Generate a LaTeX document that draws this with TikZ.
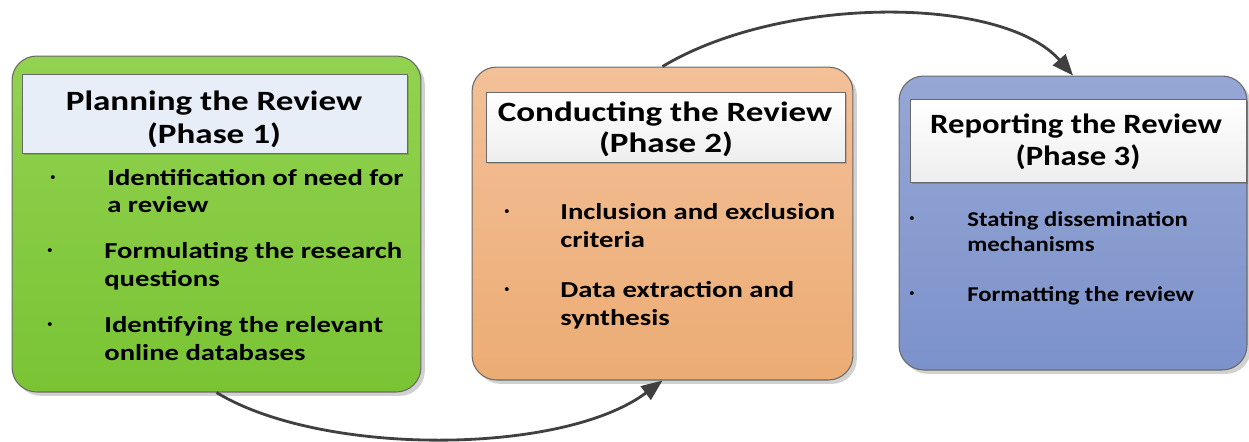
\documentclass[tikz,border=0pt]{standalone}
\usepackage{fontspec}
\setmainfont{Carlito}
\newfontfamily\widefont[FakeStretch=1.255]{Carlito}
\newfontfamily\midfont[FakeStretch=1.17]{Carlito}
\usetikzlibrary{arrows.meta,shadows}

\definecolor{edgegray}{RGB}{105,105,105}
\definecolor{arrowgray}{RGB}{64,64,64}
\definecolor{greentop}{RGB}{146,210,80}
\definecolor{greenbot}{RGB}{122,196,52}
\definecolor{orangetop}{RGB}{243,192,152}
\definecolor{orangebot}{RGB}{236,172,116}
\definecolor{bluetop}{RGB}{150,167,213}
\definecolor{bluebot}{RGB}{124,146,203}
\definecolor{paleblue}{RGB}{232,238,248}
\definecolor{palegray}{RGB}{238,238,238}

\tikzset{
  phasebox/.style={draw=edgegray, line width=0.6pt, rounded corners=14pt,
    drop shadow={shadow xshift=2.2pt, shadow yshift=-2.2pt, fill=black, opacity=0.18},
    inner sep=0pt},
  titlebox/.style={draw=edgegray, line width=0.5pt, inner sep=0pt,
    drop shadow={shadow xshift=1.2pt, shadow yshift=-1.2pt, fill=black, opacity=0.15}},
  titletext/.style={inner sep=0pt, anchor=base, font=\widefont\bfseries\fontsize{15.9}{19}\selectfont},
  titletextb/.style={inner sep=0pt, anchor=base, font=\midfont\bfseries\fontsize{15.9}{19}\selectfont},
  itemtext/.style={inner sep=0pt, anchor=base west, font=\widefont\bfseries\fontsize{13}{15.9}\selectfont},
  smallitem/.style={inner sep=0pt, anchor=base west, font=\midfont\bfseries\fontsize{12}{14.5}\selectfont},
  bulletdot/.style={inner sep=0pt, anchor=base, font=\bfseries\fontsize{12}{14}\selectfont},
  flow/.style={draw=arrowgray, line width=1.6pt,
    -{Triangle[length=12pt, width=9.5pt]}},
}

\begin{document}
\begin{tikzpicture}[x=0.02cm, y=-0.02cm]
  \useasboundingbox (0,0) rectangle (1249,441);

  % the three phase panels
  \node[phasebox, top color=greentop, bottom color=greenbot,
        minimum width=8.18cm, minimum height=6.72cm] (p1) at (216.5,224) {};
  \node[phasebox, top color=orangetop, bottom color=orangebot,
        minimum width=7.62cm, minimum height=6.26cm] (p2) at (662.5,223.5) {};
  \node[phasebox, top color=bluetop, bottom color=bluebot,
        minimum width=6.96cm, minimum height=5.88cm] (p3) at (1073,223) {};

  % title boxes
  \node[titlebox, fill=paleblue, minimum width=7.7cm, minimum height=1.58cm] (t1) at (214.5,113.5) {};
  \node[titlebox, top color=white, bottom color=palegray, minimum width=7.18cm, minimum height=1.4cm] (t2) at (665.5,127) {};
  \node[titlebox, top color=white, bottom color=palegray, minimum width=6.72cm, minimum height=1.66cm] (t3) at (1078,140.5) {};

  % titles
  \node[titletext] (t1a) at (214,110) {Planning the Review};
  \node[titletext] (t1b) at (214,143) {(Phase 1)};
  \node[titletext] (t2a) at (665,121) {Conducting the Review};
  \node[titletext] (t2b) at (666,152) {(Phase 2)};
  \node[titletextb] (t3a) at (1076,133) {Reporting the Review};
  \node[titletextb] (t3b) at (1078,165) {(Phase 3)};

  % phase 1 items
  \node[bulletdot] (d11) at (53,183) {·};
  \node[itemtext] (i11a) at (107,185) {Identification of need for};
  \node[itemtext] (i11b) at (107,212.5) {a review};
  \node[bulletdot] (d12) at (50,256) {·};
  \node[itemtext] (i12a) at (104,258) {Formulating the research};
  \node[itemtext] (i12b) at (104,286) {questions};
  \node[bulletdot] (d13) at (50,330) {·};
  \node[itemtext] (i13a) at (104,332) {Identifying the relevant};
  \node[itemtext] (i13b) at (104,360) {online databases};

  % phase 2 items
  \node[bulletdot] (d21) at (507,217) {·};
  \node[itemtext] (i21a) at (560,219) {Inclusion and exclusion};
  \node[itemtext] (i21b) at (560,247) {criteria};
  \node[bulletdot] (d22) at (507,295) {·};
  \node[itemtext] (i22a) at (560,297) {Data extraction and};
  \node[itemtext] (i22b) at (560,325) {synthesis};

  % phase 3 items
  \node[bulletdot] (d31) at (912,224) {·};
  \node[smallitem] (i31a) at (967,226) {Stating dissemination};
  \node[smallitem] (i31b) at (967,251) {mechanisms};
  \node[bulletdot] (d32) at (912,299) {·};
  \node[smallitem] (i32a) at (967,301) {Formatting the review};

  % flow between phases
  \draw[flow] (p1.south) .. controls +(105,64) and +(-100,75) .. (p2.south);
  \draw[flow] (p2.north) .. controls +(120,-72) and +(-70,-80) .. (p3.north);
\end{tikzpicture}
\end{document}
